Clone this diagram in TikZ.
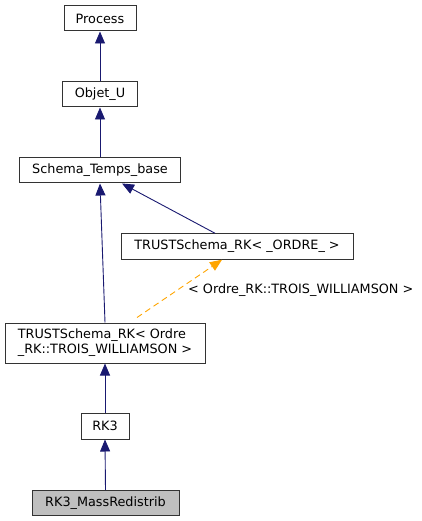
\documentclass[tikz,border=0pt]{standalone}
\usepackage{fontspec}
\setmainfont{DejaVu Sans}
\usetikzlibrary{arrows.meta}
\definecolor{edgeblue}{HTML}{191970}
\definecolor{dashorange}{HTML}{FFA500}
\definecolor{boxline}{HTML}{333333}
\definecolor{greyfill}{HTML}{BFBFBF}
\begin{document}
\begin{tikzpicture}[x=1pt,y=-1pt,
  font=\fontsize{12.8}{15}\selectfont,
  box/.style={draw=boxline, line width=1pt, fill=white, inner sep=0pt, align=center},
  inherit/.style={draw=edgeblue, line width=0.9pt, -{Triangle[length=12pt,width=10pt]}},
  tmpl/.style={draw=dashorange, line width=0.9pt, dash pattern=on 6pt off 4pt, -{Triangle[length=12pt,width=10pt]}}]
\useasboundingbox (0,0) rectangle (421,521);
\node[box, minimum width=72pt, minimum height=25pt] (proc) at (100,18.5) {Process};
\node[box, minimum width=75pt, minimum height=25pt] (obj) at (100,94.5) {Objet\_U};
\node[box, minimum width=161pt, minimum height=25pt] (stb) at (100,170.5) {Schema\_Temps\_base};
\node[box, minimum width=232pt, minimum height=25.5pt] (tro) at (237,246.5) {TRUSTSchema\_RK< \_ORDRE\_ >};
\node[box, minimum width=200pt, minimum height=40pt, align=left] (trw) at (105,343) {TRUSTSchema\_RK< Ordre\\\_RK::TROIS\_WILLIAMSON >};
\node[box, minimum width=48pt, minimum height=26pt] (rk3) at (105,426) {RK3};
\node[box, fill=greyfill, minimum width=147pt, minimum height=25pt] (rkm) at (105.5,503) {RK3\_MassRedistrib};
\node[inner sep=0pt, anchor=west] (lbl) at (188,290) {< Ordre\_RK::TROIS\_WILLIAMSON >};
\draw[inherit] (obj.north) -- (proc.south);
\draw[inherit] (stb.north) -- (obj.south);
\draw[inherit] (trw.north) -- (stb.south);
\draw[inherit] ([xshift=-22pt]tro.north) -- ([xshift=22pt]stb.south);
\draw[tmpl] ([xshift=32pt,yshift=5pt]trw.north) -- ([xshift=-15pt]tro.south);
\draw[inherit] (rk3.north) -- (trw.south);
\draw[inherit] (rkm.north) -- (rk3.south);
\end{tikzpicture}
\end{document}
